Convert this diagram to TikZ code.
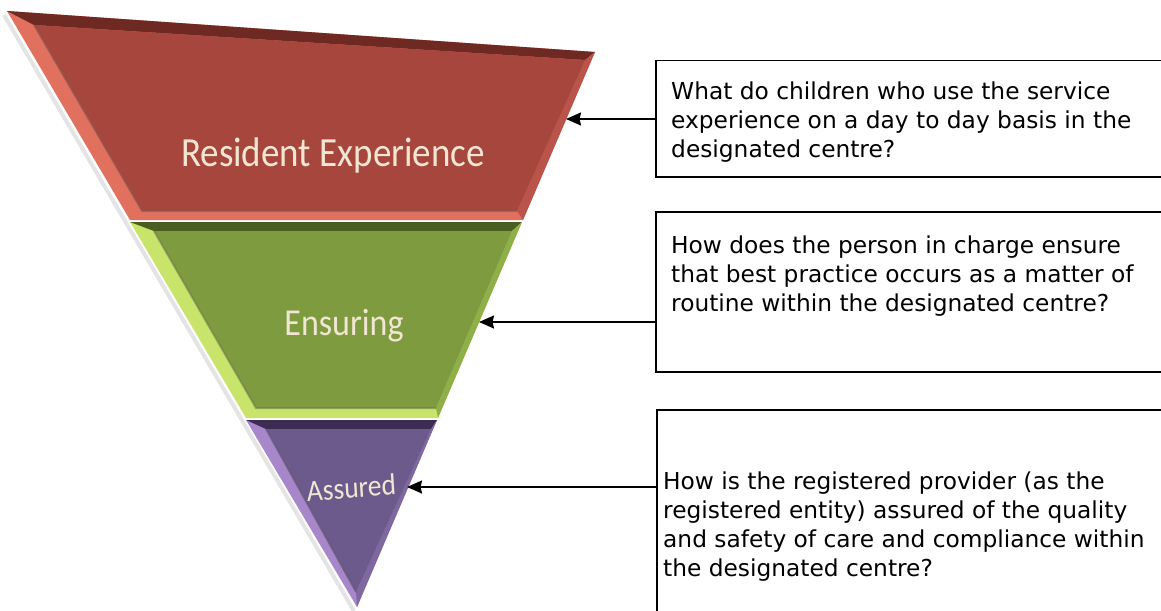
\documentclass[tikz,border=0pt]{standalone}
\usepackage{fontspec}
\setmainfont{DejaVu Sans}
\newfontfamily\labelfont{Carlito}
\usetikzlibrary{arrows.meta}
\definecolor{rface}{HTML}{A7463C}
\definecolor{rlight}{HTML}{E2705F}
\definecolor{rdark}{HTML}{6E2A22}
\definecolor{rside}{HTML}{B9544A}
\definecolor{gface}{HTML}{7E9B3F}
\definecolor{glight}{HTML}{C8E46A}
\definecolor{gdark}{HTML}{4A5E22}
\definecolor{gside}{HTML}{8FAF48}
\definecolor{pface}{HTML}{6D5A8C}
\definecolor{plight}{HTML}{A787CA}
\definecolor{pdark}{HTML}{3D2C52}
\definecolor{pside}{HTML}{7F68A0}
\definecolor{labeltext}{HTML}{F1E6D3}
\begin{document}
\begin{tikzpicture}[x=1pt,y=-1pt,
  qbox/.style={draw=black, line width=1.5pt, fill=white, rectangle, inner sep=0pt, anchor=north west},
  qtext/.style={font=\fontsize{23.3}{28.7}\selectfont, align=left, anchor=north west, inner sep=0pt},
  arr/.style={-{Stealth[length=15pt,width=13pt,inset=1.5pt]}, line width=1.7pt},
  lbl/.style={font=\labelfont, text=labeltext, anchor=base, inner sep=0pt}]
\useasboundingbox (0,0) rectangle (1161,610);
\clip (0,0) rectangle (1161,610);
% soft shadow on left
\draw[gray!35, line width=4pt, opacity=0.6] (4,15) -- (354,611);
% band 1 (red)
\fill[rlight] (7,11) -- (595,52) -- (523,220) -- (130,220) -- cycle;
\fill[rdark] (7,11) -- (595,52) -- (585,60) -- (34,25) -- cycle;
\fill[rside] (595,52) -- (523,220) -- (517,211) -- (585,60) -- cycle;
\fill[rface] (34,25) -- (585,60) -- (517,211) -- (142,211) -- cycle;
\draw[rdark!80, line width=2pt, opacity=0.6] (34,25) -- (142,211) -- (517,211);
% band 2 (green)
\fill[glight] (130,222) -- (522,222) -- (438,418) -- (246,418) -- cycle;
\fill[gdark] (130,222) -- (522,222) -- (512,231) -- (154,231) -- cycle;
\fill[gside] (522,222) -- (438,418) -- (436,408) -- (512,231) -- cycle;
\fill[gface] (154,231) -- (512,231) -- (436,408) -- (256,408) -- cycle;
\draw[gdark!80, line width=2pt, opacity=0.6] (154,231) -- (256,408) -- (436,408);
% band 3 (purple)
\fill[plight] (246,420) -- (437,420) -- (357,607) -- cycle;
\fill[pdark] (246,420) -- (437,420) -- (431,429) -- (266,429) -- cycle;
\fill[pside] (437,420) -- (357,607) -- (356,592) -- (431,429) -- cycle;
\fill[pface] (266,429) -- (431,429) -- (356,592) -- cycle;
\draw[pdark!80, line width=2pt, opacity=0.6] (266,429) -- (356,592);
% labels
\node[lbl, font=\labelfont\fontsize{37}{40}\selectfont, yscale=1.12] (res) at (333,166) {Resident Experience};
\node[lbl, font=\labelfont\fontsize{34}{38}\selectfont, yscale=1.12] (ens) at (344,335) {Ensuring};
\node[lbl, font=\labelfont\fontsize{27.5}{30}\selectfont, yscale=1.1, rotate=4] (ass) at (352,498) {Assured};
% arrow tips on triangle edge
\coordinate (tip1) at (566,119);
\coordinate (tip2) at (479,322);
\coordinate (tip3) at (407,487);
% question boxes
\node[qbox, minimum width=540pt, minimum height=116pt] (q1) at (655,60) {};
\node[qbox, minimum width=540pt, minimum height=160pt] (q2) at (655,211) {};
\node[qbox, minimum width=540pt, minimum height=240pt] (q3) at (656,409) {};
\node[qtext] (t1) at (671,82) {What do children who use the service\\experience on a day to day basis in the\\designated centre?};
\node[qtext] (t2) at (671,236) {How does the person in charge ensure\\that best practice occurs as a matter of\\routine within the designated centre?};
\node[qtext] (t3) at (663,472) {How is the registered provider (as the\\registered entity) assured of the quality\\and safety of care and compliance within\\the designated centre?};
% arrows
\draw[arr] (q1.west |- tip1) -- (tip1);
\draw[arr] (q2.west |- tip2) -- (tip2);
\draw[arr] (q3.west |- tip3) -- (tip3);
\end{tikzpicture}
\end{document}
